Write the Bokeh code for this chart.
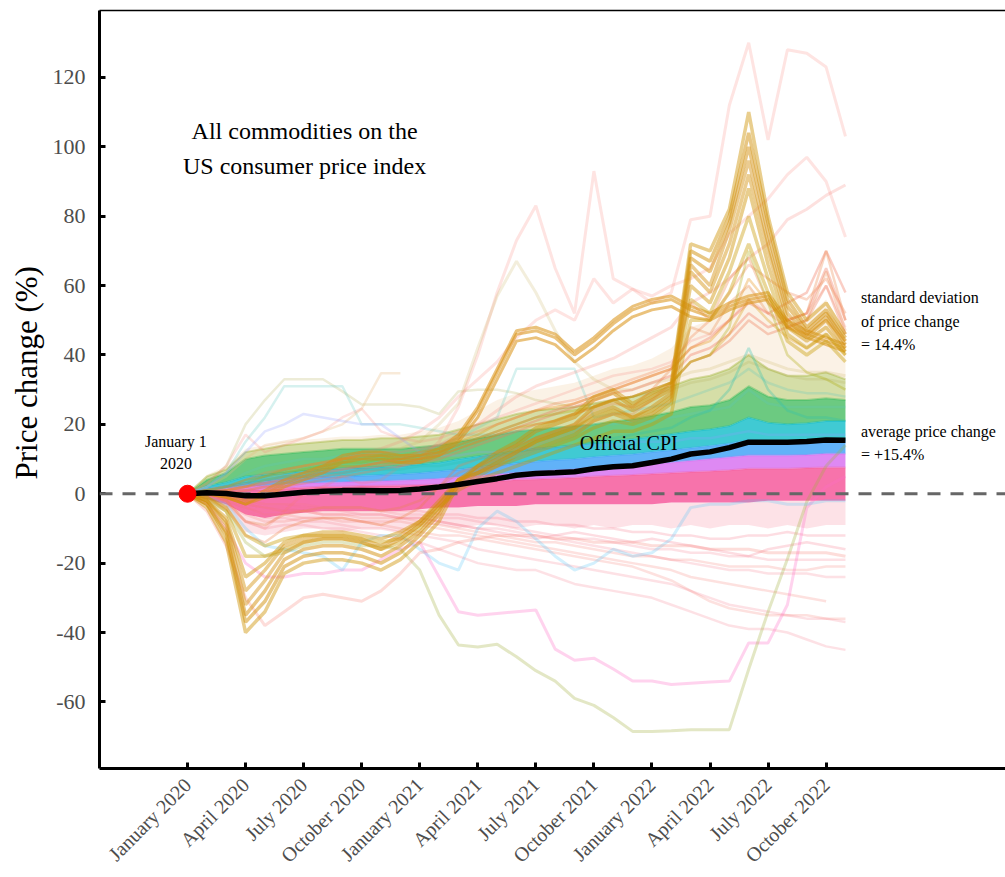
import math
import numpy as np
from bokeh.plotting import figure
from bokeh.models import Range1d, FixedTicker, Span, Label, LinearAxis, Title
from bokeh.embed import file_html
from bokeh.resources import INLINE

nan = float("nan")
SERIF = "Liberation Serif"

# ---------------- data (month index 0 = January 2020) ----------------
months = list(range(35))
tick_months = [0, 3, 6, 9, 12, 15, 18, 21, 24, 27, 30, 33]
tick_labels = ["January 2020", "April 2020", "July 2020", "October 2020",
               "January 2021", "April 2021", "July 2021", "October 2021",
               "January 2022", "April 2022", "July 2022", "October 2022"]
y_ticks = [-60, -40, -20, 0, 20, 40, 60, 80, 100, 120]
y_tick_labels = ["-60", "-40", "-20", "0", "20", "40", "60", "80", "100", "120"]

cpi = [0, 0.27, 0.06, -0.61, -0.61, -0.07, 0.44, 0.75, 0.9, 0.94, 0.88, 0.97, 1.4, 1.96, 2.68,
       3.52, 4.35, 5.32, 5.83, 6.05, 6.34, 7.22, 7.75, 8.08, 8.99, 9.98, 11.45, 12.07, 13.31,
       14.86, 14.85, 14.81, 15.06, 15.52, 15.41]

# boundaries of the dense colour mass (bottom to top)
edge_light = [0, -2, -5, -11, -12, -11, -10, -10, -11, -10, -10, -11, -9, -9, -10, -9, -9, -10, -9,
              -9, -10, -9, -10, -9, -9, -10, -9, -10, -9, -9, -10, -9, -10, -9, -9]
edge_pink = [0, -1.5, -3, -6, -7, -6, -5.5, -5, -5, -5, -5, -5, -4.5, -4, -4, -3.5, -3.5, -3.5, -3,
             -3, -3, -3, -3, -3, -3, -2.5, -2.5, -2.5, -2.5, -2.5, -2, -2, -2, -2, -2]
edge_magenta = [0, 0.5, 0.8, 1, 1.2, 1.5, 1.8, 2, 2, 2.2, 2.3, 2.4, 2.5, 2.7, 3, 3.3, 3.6, 4, 4.2,
                4.4, 4.6, 5, 5.2, 5.4, 5.7, 6, 6.3, 6.5, 6.8, 7.2, 7.2, 7.2, 7.4, 7.6, 7.6]
edge_blue = [0, 1, 1.5, 2, 2.3, 2.6, 3, 3.2, 3.3, 3.5, 3.6, 3.8, 4, 4.3, 4.8, 5.2, 5.6, 6, 6.4,
             6.7, 7, 7.5, 7.8, 8.1, 8.5, 9, 9.5, 10, 10.5, 11, 11, 11, 11.2, 11.5, 11.5]
edge_cyan = [0, 1.5, 2.2, 3, 3.5, 4, 4.5, 4.8, 5, 5.2, 5.4, 5.6, 6, 6.5, 7, 7.6, 8.2, 8.8, 9.3,
             9.7, 10, 10.6, 11, 11.4, 12, 12.6, 13.2, 13.8, 14.5, 15.5, 15.2, 15, 15.2, 15.5, 15.5]
edge_green = [0, 2.2, 3.3, 5, 5.5, 6, 6.5, 7, 7.3, 7.5, 7.7, 8, 8.5, 9, 10, 10.8, 11.5, 12.2, 13,
              13.5, 14, 14.6, 15.2, 15.8, 16.5, 17.2, 18, 18.6, 19.5, 22, 20.5, 20, 20.3, 21, 21]
edge_olive = [0, 4, 6, 10, 11, 11.5, 12, 12.5, 13, 13, 13, 13, 13.5, 14, 15, 16, 17, 18, 18.5,
              19, 19.5, 20, 20.8, 21.5, 22.5, 23.5, 25, 25.5, 27, 31, 28, 27, 27, 27.5, 27]
edge_orange = [0, 5, 7, 12, 13, 14, 14.5, 15, 15.5, 15.5, 16, 16, 16.5, 17, 18.5, 20, 21.5, 23, 24,
               24.5, 25, 26, 27, 28, 29.5, 31, 33, 34, 36, 40, 36, 34, 34, 35, 33]
edge_top = [0, 5.5, 8, 13, 14, 15, 15.5, 16, 16.5, 16.5, 17, 17, 18, 19, 21, 24, 27, 29, 30, 31, 32,
            34, 36, 37, 39, 42, 48, 50, 54, 60, 55, 51, 51, 56, 47]

# energy (gasoline-type) bundle
g1 = [0, -4, -14, -40, -34, -23, -20, -19, -19, -20, -22, -19, -14, -8, 3, 8, 12, 15, 19, 21, 23, 28, 30, 26, 29, 32, 72, 70, 82, 110, 80, 58, 50, 55, 46]
g2 = [0, -3, -12, -37, -31, -21, -18, -17, -17, -18, -20, -17, -12, -6, 4, 8, 11, 14, 18, 20, 22, 27, 29, 25, 28, 31, 70, 67, 80, 104, 78, 56, 48, 53, 45]
g3 = [0, -3, -11, -35, -28, -19, -16, -15, -15, -16, -18, -15, -11, -5, 4, 7, 10, 13, 16, 18, 20, 25, 27, 24, 27, 30, 68, 64, 78, 100, 75, 54, 47, 52, 44]
g4 = [0, -2, -9, -32, -25, -17, -14, -13, -13, -14, -16, -13, -9, -3, 4, 6, 9, 12, 15, 17, 19, 23, 25, 22, 25, 29, 66, 60, 76, 96, 72, 52, 46, 51, 43]
g5 = [0, -2, -8, -28, -22, -15, -13, -12, -12, -13, -15, -12, -8, -3, 3, 6, 8, 11, 13, 15, 17, 21, 23, 21, 23, 27, 64, 58, 72, 92, 70, 50, 45, 50, 42]
g6 = [0, -2, -7, -24, -20, -14, -12, -11, -11, -12, -13, -11, -8, -2, 4, 6, 9, 12, 15, 17, 19, 22, 24, 22, 24, 28, 60, 55, 68, 88, 66, 48, 44, 48, 41]
g7 = [0, -1, -5, -18, -18, -16, -14, -13, -13, -14, -16, -14, -10, -4, 2, 5, 8, 10, 12, 14, 16, 19, 21, 20, 22, 26, 56, 52, 64, 80, 62, 46, 42, 46, 40]
g8 = [0, -1, -4, -12, -15, -13, -12, -12, -12, -13, -14, -13, -9, -4, 1, 4, 6, 8, 10, 12, 14, 16, 18, 18, 20, 23, 50, 50, 58, 72, 58, 44, 40, 44, 38]

# used-vehicle bundle
u1 = [0, 0, 0, -2, 1, 4, 6, 8, 11, 12, 12, 11, 11, 13, 17, 25, 36, 47, 48, 46, 41, 45, 50, 54, 56, 57, 54, 52, 55, 57, 58, 50, 47, 45, 43]
u2 = [0, 0, -1, -3, 0, 3, 5, 7, 10, 11, 11, 10, 10, 12, 16, 24, 35, 46, 47, 45, 40, 44, 49, 53, 55, 56, 53, 51, 54, 56, 57, 49, 46, 44, 42]
u3 = [0, 0, -1, -3, -1, 2, 4, 6, 9, 10, 10, 9, 9, 11, 15, 22, 33, 44, 45, 43, 38, 42, 47, 51, 53, 54, 51, 50, 53, 55, 56, 48, 45, 43, 41]

# orange / olive mass above the core
o1 = [0, 1, 2, 3, 5, 7, 8, 9, 10, 10, 11, 11, 12, 13, 15, 17, 20, 22, 24, 25, 26, 28, 30, 32, 34, 36, 42, 44, 50, 62, 55, 48, 46, 50, 44]
o2 = [0, 1, 1, 2, 4, 5, 6, 7, 8, 8, 9, 9, 10, 11, 13, 15, 17, 19, 20, 21, 23, 25, 27, 28, 30, 32, 38, 40, 46, 56, 50, 45, 42, 46, 40]
o3 = [0, -1, -4, -12, -14, -10, -8, -7, -7, -8, -9, -7, -4, 2, 8, 10, 12, 14, 16, 18, 20, 24, 26, 25, 30, 36, 55, 50, 62, 68, 55, 50, 52, 70, 50]
o4 = [0, 0, -2, -8, -9, -6, -5, -4, -4, -4, -5, -4, -2, 2, 6, 8, 10, 12, 14, 16, 18, 21, 23, 23, 27, 32, 48, 46, 55, 60, 52, 48, 50, 64, 47]
o5 = [0, 1, 2, 4, 6, 7, 8, 9, 10, 11, 12, 12, 13, 14, 16, 18, 20, 22, 24, 26, 27, 29, 31, 33, 35, 37, 45, 50, 58, 66, 62, 58, 56, 62, 52]
o6 = [0, 1, 2, 4, 5, 6, 7, 8, 9, 9, 10, 10, 11, 12, 14, 16, 18, 20, 22, 23, 24, 25, 27, 28, 30, 32, 38, 40, 48, 70, 55, 40, 35, 33, 30]
o7 = [0, 1, 2, 3, 4, 5, 5, 6, 6, 7, 7, 7, 8, 8, 9, 10, 11, 12, 13, 13, 14, 15, 16, 17, 18, 19, 22, 24, 30, 42, 30, 24, 22, 22, 21]
r1 = [0, 0, 1, 2, 3, 4, 5, 6, 7, 8, 9, 10, 11, 12, 14, 16, 18, 20, 22, 24, 26, 28, 30, 32, 34, 36, 42, 45, 50, 55, 52, 55, 58, 70, 58]
r2 = [0, 0, 1, 1, 2, 3, 4, 5, 6, 7, 8, 9, 10, 11, 13, 15, 17, 19, 21, 23, 25, 27, 29, 30, 32, 34, 40, 42, 46, 52, 48, 50, 52, 65, 50]
r3 = [0, 0, 0, 1, 2, 2, 3, 4, 5, 6, 7, 8, 9, 10, 12, 14, 16, 18, 20, 21, 23, 25, 27, 28, 30, 32, 38, 40, 44, 50, 46, 48, 50, 60, 46]

# high outliers
t1 = [0, 1, -2, -8, -10, -5, 0, 2, 5, 3, 4, 8, 10, 15, 25, 40, 58, 73, 83, 65, 52, 93, 62, 59, 55, 58, 79, 80, 112, 130, 102, 128, 127, 123, 103]
t3 = [0, 0, 1, 2, 4, 6, 8, 9, 10, 11, 12, 13, 15, 20, 26, 42, 57, 67, 58, 47, 38, 33, 30, 30, 32, 33, 35, 36, 38, 40, 38, 36, 35, 35, 34]
t4 = [0, 1, 2, 2, 3, 5, 6, 8, 10, 12, 13, 15, 18, 22, 28, 33, 38, 45, 50, 53, 50, 62, 55, 59, 57, 60, 62, 65, 75, 80, 85, 92, 97, 90, 74]
t5 = [0, 0, 1, 2, 3, 4, 5, 6, 7, 8, 9, 10, 12, 14, 17, 20, 24, 28, 31, 33, 35, 37, 39, 42, 45, 48, 55, 58, 62, 68, 72, 79, 82, 86, 89]
e1 = [0, 3, 8, 20, 27, 33, 33, 33, 29.5, 25.7, 25.7, 25.7, 25, 23, 29.5, 30, 30, 29, 27, 26, 25, 26, 27, 28, 29, 30, 32, 33, 35, 38, 36, 34, 33, 33, 32]
e2 = [0, 2, 6, 15, 22, 31, 31, 31, 31, 20, 20, 20, 19, 18, 17, 17, 17, 18, 18, 19, 19, 20, 20, 21, 21, 22, 23, 24, 25, 30, 26, 25, 25, 25, 25]
e3 = [0, 1, 3, 6, 8, 9, 10, 10, 11, 11, 12, 12, 13, 14, 16, 19, 22, 36, 36, 36, 36, 22, 23, 24, 25, 26, 28, 30, 32, 36, 32, 30, 29, 29, 28]
e4 = [0, 2, 5, 10, 14, 15, 16, 18, 20, 24.5, 34.7, 34.7, nan, nan, nan, nan, nan, nan, nan, nan, nan, nan, nan, nan, nan, nan, nan, nan, nan, nan, nan, nan, nan, nan, nan]
e5 = [0, 3, 8, 17, 12, 14, 16, 18, 22, 24.5, 18, 16, 15, 16, 18, 20, 22, 24, 26, 28, 30, 32, 34, 35, 36, 38, 44, 46, 50, 56, 52, 50, 52, 60, 48]
e6 = [0, 2, 6, 12, 18, 20, 23, 22, 21, 20, 20, 16, 12, 11, 11, 12, 12, 13, 13, 13, 14, 14, 14, 15, 15, 15, 16, 16, 17, 18, 17, 17, 17, 17, 17]

# low outliers
pk = [0, -3, -10, -20, -24, -24, -23, -23, -22, -22, -19, -16, -14, -24, -34, -35, -34.5, -34, -33.5, -44.8, -48, -47.4, -50.5, -54, -54, -55, -54.6, -54.3, -54, -43, -43, -32, -4, 2, 5]
ol = [0, -2, -5, -14, -18, -17, -15, -14, -14, -15, -15, -16, -22, -35, -43.6, -44.2, -43.4, -47, -51, -54, -59, -61, -64.5, -68.5, -68.5, -68.3, -68, -68, -68, -50.6, -34, -18.8, -2.3, 8, 14]
lb = [0, -1, -3, -10, -15, -16, -17, -18, -22, -14, -12, -12, -16, -20, -22, -10, -5, -8, -13, -18, -22, -20, -16, -18, -17, -13, -4, -3, -3, -2, -2, -3, -3, -2, -2]
s20 = [0, -5, -15, -30, -38, -34, -30, -29, -30, -31, -28, -23, -17, -16, -14, -13, -12, -12, -12, -13, -13, -14, -14, -14, -15, -15, -15, -16, -16, -16, -17, -17, -17, -17, -18]
l1 = [0, -1, -3, -8, -10, -9, -9, -10, -10, -11, -12, -13, -14, -16, -18, -20, -21, -22, -22, -24, -26, -27, -28, -29, -30, -32, -34, -36, -38, -39, -39, -40, -42, -44, -45]
l2 = [0, -1, -2, -5, -7, -7, -8, -8, -9, -10, -10, -11, -12, -13, -14, -16, -17, -18, -19, -20, -21, -22, -23, -24, -25, -26, -28, -30, -32, -33, -34, -35, -36, -36, -37]
l3 = [0, -1, -3, -6, -8, -8, -7, -7, -8, -8, -9, -10, -11, -12, -12, -13, -14, -15, -16, -17, -18, -19, -20, -21, -23, -25, -28, -31, -33, -34, -35, -35, -35, -36, -36]
l4 = [0, 0, -1, -3, -4, -4, -5, -5, -5, -6, -6, -7, -7, -8, -9, -10, -10, -11, -12, -13, -14, -15, -16, -17, -18, -19, -20, -21, -22, -22, -23, -23, -23, -24, -24]
l5 = [0, 0, -1, -2, -3, -3, -4, -4, -5, -5, -5, -6, -6, -7, -7, -8, -9, -10, -11, -12, -13, -13, -14, -15, -16, -16, -17, -17, -18, -18, -19, -19, -19, -19, -19]
l6 = [0, -1, -2, -4, -6, -6, -7, -7, -7, -8, -8, -8, -9, -10, -11, -12, -13, -14, -15, -16, -17, -18, -19, -20, -21, -22, -24, -25, -26, -27, -28, -29, -30, -31, nan]
l7 = [0, 0, -1, -2, -3, -3, -3, -4, -4, -4, -5, -5, -5, -6, -6, -7, -7, -8, -8, -9, -9, -10, -10, -11, -11, -12, -12, -13, -13, -12, -12, -11, -12, -12, -12]
l8 = [0, -1, -2, -4, -5, -5, -5, -6, -6, -6, -6, -7, -7, -8, -9, -10, -11, -12, -13, -12, -11, -12, -13, -14, -13, -14, -15, -16, -17, -18, -16, -15, -14, -15, -16]
l9 = [0, 0, -1, -3, -4, -5, -5, -6, -6, -7, -7, -7, -8, -9, -10, -11, -12, -13, -14, -14, -15, -16, -17, -18, -18, -19, -19, -20, -21, -21, -21, -22, -22, -21, -21]

# ---------------- styles ----------------
bands = [  # (lower, upper, colour, alpha)
    (edge_light, edge_pink, "#F67A92", 0.22),
    (edge_pink, edge_magenta, "#F65A9C", 0.85),
    (edge_magenta, edge_blue, "#D66BF0", 0.8),
    (edge_blue, edge_cyan, "#3A9FF6", 0.8),
    (edge_cyan, edge_green, "#00B8C4", 0.75),
    (edge_green, edge_olive, "#2EB44C", 0.7),
    (edge_olive, edge_orange, "#97AD22", 0.4),
    (edge_orange, edge_top, "#E39A3A", 0.13),
]
line_styles = [  # (series, colour, alpha, width)
    (l1, "#F8768A", 0.22, 2.5), (l2, "#F8768A", 0.22, 2.5), (l3, "#F8766D", 0.22, 2.5),
    (l4, "#F8768A", 0.22, 2.5), (l5, "#F8768A", 0.22, 2.5), (l6, "#F8766D", 0.22, 2.5),
    (l7, "#F8768A", 0.25, 2.5), (l8, "#F8768A", 0.25, 2.5), (l9, "#F8766D", 0.22, 2.5),
    (pk, "#FF6EC7", 0.3, 3), (ol, "#A3B040", 0.3, 3), (lb, "#4FC3F7", 0.25, 3),
    (s20, "#F8766D", 0.25, 3),
    (e1, "#B8B460", 0.25, 2.5), (e2, "#5CC8C0", 0.25, 2.5), (e3, "#5CC8C0", 0.25, 2.5),
    (e4, "#E8B880", 0.3, 2.5), (e5, "#F8766D", 0.2, 2.5), (e6, "#8E9CFF", 0.25, 2.5),
    (t1, "#F8766D", 0.2, 3), (t3, "#C8B060", 0.22, 3), (t4, "#F8766D", 0.2, 3),
    (t5, "#F8766D", 0.22, 3),
    (r1, "#F0745A", 0.35, 2.5), (r2, "#F0745A", 0.35, 2.5), (r3, "#EE7A55", 0.35, 2.5),
    (o1, "#E58700", 0.3, 2.5), (o2, "#D79300", 0.3, 2.5), (o3, "#EC7F40", 0.3, 2.5),
    (o4, "#E9844A", 0.3, 2.5), (o5, "#F1804E", 0.3, 2.5), (o6, "#A9A500", 0.3, 2.5),
    (o7, "#2CC0B0", 0.3, 2.5),
    (u1, "#D98F10", 0.55, 3), (u2, "#D98F10", 0.55, 3), (u3, "#D98F10", 0.55, 3),
    (g8, "#C79A00", 0.4, 3.5), (g7, "#C99800", 0.4, 3.5), (g6, "#CF9205", 0.45, 3.5),
    (g5, "#D2900A", 0.45, 3.5), (g4, "#D38F0E", 0.45, 3.5), (g3, "#D38F0E", 0.5, 3.5),
    (g2, "#D2900A", 0.5, 3.5), (g1, "#CF9205", 0.45, 3.5),
]

# ---------------- figure ----------------
p = figure(width=1005, height=877, output_backend="svg", toolbar_location=None,
           x_range=Range1d(-4.548, 42.27), y_range=Range1d(-79.2, 139.3),
           min_border_left=99, min_border_right=0, min_border_top=10, min_border_bottom=0)
p.xgrid.visible = False
p.ygrid.visible = False
p.outline_line_color = None
p.background_fill_color = "white"
p.border_fill_color = "white"

x_arr = np.array(months, dtype=float)
for lower, upper, col, a in bands:
    p.varea(x=x_arr, y1=np.array(lower, dtype=float), y2=np.array(upper, dtype=float),
            fill_color=col, fill_alpha=a)
for lower, upper, col, a in bands[1:-1]:
    p.line(x_arr, np.array(upper, dtype=float), line_color=col, line_alpha=0.35, line_width=2)

for ser, col, a, w in line_styles:
    p.line(x_arr, np.array(ser, dtype=float), line_color=col, line_alpha=a, line_width=w)

zero = Span(location=0, dimension="width", line_color="#666666", line_width=3, line_dash="13 10")
p.add_layout(zero)

p.line(x_arr, np.array(cpi, dtype=float), line_color="black", line_width=5.5, level="overlay")
p.scatter([months[0]], [cpi[0]], size=17, color="#FF0000", level="overlay")

# axes
xa = p.below[0]
xa.ticker = FixedTicker(ticks=tick_months)
xa.major_label_overrides = {m: lab for m, lab in zip(tick_months, tick_labels)}
xa.major_label_orientation = math.pi / 4
xa.major_label_text_font = SERIF
xa.major_label_text_font_size = "20px"
xa.major_label_text_color = "#4d4d4d"
xa.major_label_standoff = 13
xa.axis_line_width = 3
xa.axis_line_color = "black"
xa.major_tick_in = 6
xa.major_tick_out = 0
xa.major_tick_line_width = 3
xa.minor_tick_line_color = None

ya = p.left[0]
ya.ticker = FixedTicker(ticks=y_ticks)
ya.major_label_overrides = {t: s for t, s in zip(y_ticks, y_tick_labels)}
ya.major_label_text_font = SERIF
ya.major_label_text_font_size = "22px"
ya.major_label_text_color = "#4d4d4d"
ya.major_label_standoff = 14
ya.axis_line_width = 3
ya.axis_line_color = "black"
ya.major_tick_in = 6
ya.major_tick_out = 0
ya.major_tick_line_width = 3
ya.minor_tick_line_color = None

# y-axis title as a side title, anchored from the bottom of the frame
ytitle = Title(text="Price change (%)", align="left", offset=289, text_font=SERIF,
               text_font_size="31px", text_font_style="normal", text_color="black",
               standoff=12)
p.add_layout(ytitle, "left")

top_axis = LinearAxis(ticker=FixedTicker(ticks=[]), axis_line_color="black", axis_line_width=1.5,
                      major_tick_line_color=None, minor_tick_line_color=None,
                      major_label_text_font_size="0px", major_label_standoff=0)
p.add_layout(top_axis, "above")

# annotations (positions in data units)
def lab(x, y, text, size, align="center", color="black"):
    p.add_layout(Label(x=x, y=y, text=text, text_font=SERIF, text_font_size=size,
                       text_align=align, text_baseline="middle", text_color=color))

lab(6.05, 104.6, "All commodities on the", "24px")
lab(6.05, 94.5, "US consumer price index", "24px")
lab(-0.6, 15.0, "January 1", "16px")
lab(-0.6, 8.7, "2020", "16px")
lab(22.8, 14.7, "Official CPI", "20px")
lab(34.8, 56.6, "standard deviation", "16px", "left")
lab(34.8, 49.7, "of price change", "16px", "left")
lab(34.8, 43.1, "= 14.4%", "16px", "left")
lab(34.8, 17.9, "average price change", "16px", "left")
lab(34.8, 11.3, "= +15.4%", "16px", "left")

open("out.html", "w").write(file_html(p, INLINE))
